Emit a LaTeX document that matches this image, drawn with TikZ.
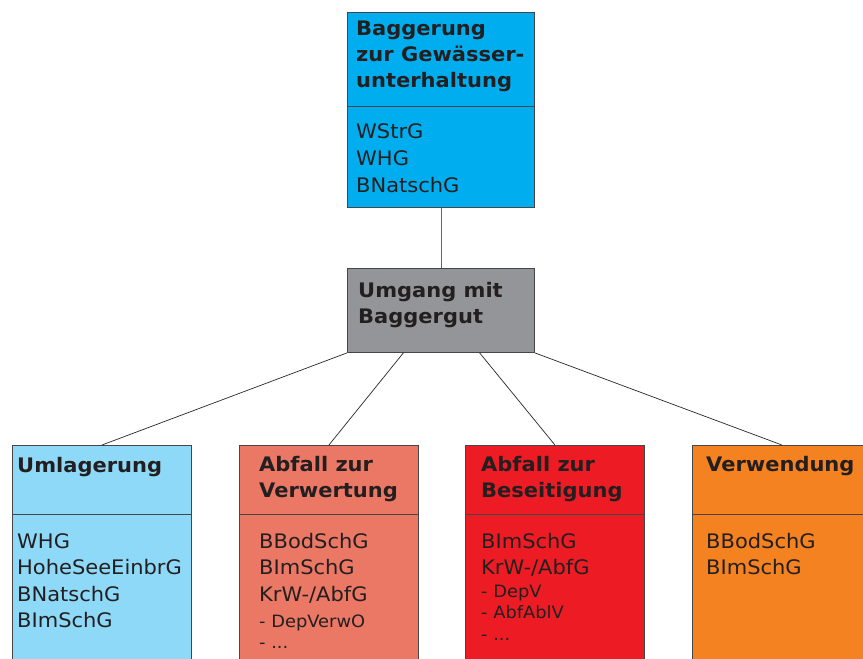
\documentclass[tikz,border=0pt]{standalone}
\usepackage{fontspec}
\setmainfont{DejaVu Sans}[FakeStretch=1.05]
\usepackage{tikz}
\usetikzlibrary{calc,positioning}

\definecolor{ink}{RGB}{35,31,32}
\definecolor{boxline}{RGB}{70,70,72}
\definecolor{topcyan}{RGB}{0,174,239}
\definecolor{midgray}{RGB}{147,149,152}
\definecolor{umlblue}{RGB}{142,216,248}
\definecolor{verwsalmon}{RGB}{235,119,101}
\definecolor{besred}{RGB}{237,28,36}
\definecolor{vwdorange}{RGB}{245,130,32}

\begin{document}
\begin{tikzpicture}[x=1pt,y=-1pt,
	box/.style={draw=boxline,line width=0.9pt,anchor=north west,inner sep=0,minimum width=179,minimum height=230},
	trenn/.style={draw=boxline,line width=0.9pt},
	link/.style={draw=black!85,line width=0.7pt},
	titel/.style={anchor=base west,inner sep=0,align=left,text=ink,font=\fontsize{20}{25.7}\bfseries\selectfont},
	liste/.style={anchor=base west,inner sep=0,align=left,text=ink,font=\fontsize{20}{26.5}\selectfont}]
		\useasboundingbox (0,0) rectangle (863,659);
		\clip (0,0) rectangle (863,659);
		% oben (base = letzte Zeile)
		\node(top) [box,fill=topcyan,minimum width=187,minimum height=195] at (347,12) {};
		\draw[trenn] (top.west |- 0,106) -- (top.east |- 0,106);
		\node(toptitel) [titel] at (356,87) {Baggerung\\zur Gewässer-\\unterhaltung};
		\node(topliste) [liste,font=\fontsize{20}{27}\selectfont] at (356,192) {WStrG\\WHG\\BNatschG};
		% mitte
		\node(mid) [box,fill=midgray,minimum width=187,minimum height=84] at (347,268) {};
		\node(midtitel) [titel] at (358,323) {Umgang mit\\Baggergut};
		% unten
		\node(uml) [box,fill=umlblue] at (12,445) {};
		\node(verw) [box,fill=verwsalmon] at (239,445) {};
		\node(bes) [box,fill=besred] at (465,445) {};
		\node(vwd) [box,fill=vwdorange] at (692,445) {};
		\foreach \b in {uml,verw,bes,vwd}
			\draw[trenn] (\b.west |- 0,514) -- (\b.east |- 0,514);
		\node(umltitel) [titel] at (17,472) {Umlagerung};
		\node(umlliste) [liste] at (17,627.5) {WHG\\HoheSeeEinbrG\\BNatschG\\BImSchG};
		\node(verwtitel) [titel] at (259,497) {Abfall zur\\Verwertung};
		\node(verwliste) [liste] at (259,648) {BBodSchG\\BImSchG\\KrW-/AbfG\\
			{\fontsize{17}{21}\selectfont - DepVerwO}\\[-6pt]
			{\fontsize{17}{21}\selectfont - ...}};
		\node(bestitel) [titel] at (481,497) {Abfall zur\\Beseitigung};
		\node(besliste) [liste] at (481,640) {BImSchG\\KrW-/AbfG\\[-4pt]
			{\fontsize{17}{21}\selectfont - DepV}\\[-5.5pt]
			{\fontsize{17}{21}\selectfont - AbfAblV}\\[-4.5pt]
			{\fontsize{17}{21}\selectfont - ...}};
		\node(vwdtitel) [titel] at (706,471) {Verwendung};
		\node(vwdliste) [liste] at (706,574.5) {BBodSchG\\BImSchG};
		% verbindungen
		\draw[link,draw=black!60] (top.south) -- (mid.north);
		\draw[link] (mid.south west) -- (uml.north);
		\draw[link] ($(mid.south west)!0.3!(mid.south east)$) -- (verw.north);
		\draw[link] ($(mid.south west)!0.706!(mid.south east)$) -- (bes.north);
		\draw[link] (mid.south east) -- (vwd.north);
	\end{tikzpicture}
\end{document}
